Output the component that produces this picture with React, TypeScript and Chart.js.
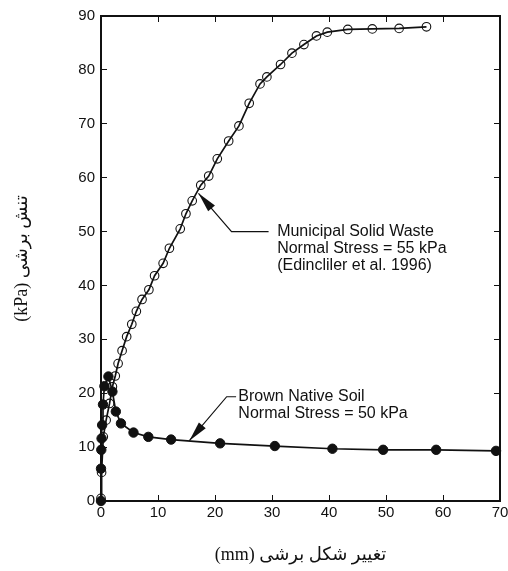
import React, { useEffect, useRef } from 'react';
import { Chart, registerables } from 'chart.js';

Chart.register(...registerables);

// Municipal Solid Waste (open circles)
const mswDisplacement = [0, 0.1, 0.4, 0.9, 1.5, 2.0, 2.5, 3.0, 3.7, 4.5, 5.4, 6.2, 7.2, 8.4, 9.4, 10.9, 12.0, 13.9, 14.9, 16.0, 17.5, 18.9, 20.4, 22.4, 24.2, 26.0, 27.9, 29.1, 31.5, 33.5, 35.6, 37.8, 39.7, 43.3, 47.6, 52.3, 57.1];
const mswStress = [0.5, 5.3, 11.9, 15.0, 18.1, 21.2, 23.2, 25.5, 27.9, 30.5, 32.8, 35.2, 37.4, 39.2, 41.8, 44.1, 46.9, 50.5, 53.3, 55.7, 58.6, 60.3, 63.5, 66.8, 69.6, 73.8, 77.4, 78.7, 81.0, 83.1, 84.7, 86.3, 87.0, 87.5, 87.6, 87.7, 88.0];

// Brown Native Soil (filled circles)
const soilDisplacement = [0, 0, 0.05, 0.1, 0.2, 0.35, 0.6, 1.3, 2.0, 2.6, 3.5, 5.7, 8.3, 12.3, 20.9, 30.5, 40.6, 49.5, 58.8, 69.3];
const soilStress = [0, 6.0, 9.5, 11.6, 14.1, 17.9, 21.3, 23.1, 20.3, 16.6, 14.4, 12.7, 11.9, 11.4, 10.7, 10.2, 9.7, 9.5, 9.5, 9.3];

const xMin = 0;
const xMax = 70;
const yMin = 0;
const yMax = 90;
const tickStep = 10;

const xTitle = 'تغییر شکل برشی (mm)';
const yTitle = 'تنش برشی (kPa)';

const mswLabel = ['Municipal Solid Waste', 'Normal Stress = 55 kPa', '(Edincliler et al. 1996)'];
const soilLabel = ['Brown Native Soil', 'Normal Stress = 50 kPa'];

// annotation anchors, in data units: arrow tip, bend, end; text start
const mswArrow = [[17.1, 57.1], [22.9, 50.0], [29.4, 50.0]];
const mswTextAt = [30.9, 50.0];
const soilArrow = [[15.5, 11.2], [22.05, 19.35], [23.7, 19.35]];
const soilTextAt = [24.1, 19.35];

const INK = '#111111';
const SANS = '"Liberation Sans", Arial, Helvetica, sans-serif';
const SERIF = '"Liberation Serif", "DejaVu Sans", serif';

const toPoints = (xs: number[], ys: number[]) => xs.map((v, i) => ({ x: v, y: ys[i] }));

const arrowPlugin = {
  id: 'arrowNotes',
  afterDatasetsDraw(chart: any) {
    const { ctx } = chart;
    const xs = chart.scales.x;
    const ys = chart.scales.y;
    const draw = (pts: number[][], textAt: number[], lines: string[]) => {
      const p = pts.map(([a, b]) => [xs.getPixelForValue(a), ys.getPixelForValue(b)]);
      ctx.save();
      ctx.strokeStyle = INK;
      ctx.fillStyle = INK;
      ctx.lineWidth = 1.2;
      ctx.beginPath();
      ctx.moveTo(p[0][0], p[0][1]);
      for (let i = 1; i < p.length; i++) ctx.lineTo(p[i][0], p[i][1]);
      ctx.stroke();
      const dx = p[0][0] - p[1][0];
      const dy = p[0][1] - p[1][1];
      const len = Math.hypot(dx, dy);
      const ux = dx / len;
      const uy = dy / len;
      const hl = 20;
      const hw = 4.5;
      const bx = p[0][0] - ux * hl;
      const by = p[0][1] - uy * hl;
      ctx.beginPath();
      ctx.moveTo(p[0][0], p[0][1]);
      ctx.lineTo(bx - uy * hw, by + ux * hw);
      ctx.lineTo(bx + uy * hw, by - ux * hw);
      ctx.closePath();
      ctx.fill();
      ctx.direction = 'ltr';
      ctx.font = '16px ' + SANS;
      ctx.textAlign = 'left';
      ctx.textBaseline = 'middle';
      const tx = xs.getPixelForValue(textAt[0]);
      const ty = ys.getPixelForValue(textAt[1]);
      lines.forEach((l, i) => ctx.fillText(l, tx, ty + i * 17));
      ctx.restore();
    };
    draw(mswArrow, mswTextAt, mswLabel);
    draw(soilArrow, soilTextAt, soilLabel);
  },
};

const axisGrid = {
  drawOnChartArea: false,
  drawTicks: true,
  tickLength: -6,
  color: INK,
  lineWidth: 1,
};
const axisBorder = { display: true, width: 2, color: INK };

const noOverhang = (s: any) => {
  s.paddingLeft = 0;
  s.paddingRight = 0;
  s.paddingTop = 0;
  s.paddingBottom = 0;
};

export default function App() {
  const ref = useRef<HTMLCanvasElement | null>(null);

  useEffect(() => {
    if (!ref.current) return;
    const chart = new Chart(ref.current, {
      type: 'scatter',
      data: {
        datasets: [
          {
            label: 'Brown Native Soil',
            data: toPoints(soilDisplacement, soilStress),
            showLine: true,
            borderColor: INK,
            borderWidth: 1.7,
            pointRadius: 4.7,
            pointBorderWidth: 1,
            pointBorderColor: INK,
            pointBackgroundColor: INK,
            tension: 0,
            clip: false,
          },
          {
            label: 'Municipal Solid Waste',
            data: toPoints(mswDisplacement, mswStress),
            showLine: true,
            borderColor: INK,
            borderWidth: 1.7,
            pointRadius: 4.3,
            pointBorderWidth: 1.1,
            pointBorderColor: INK,
            pointBackgroundColor: 'rgba(0,0,0,0)',
            tension: 0,
            clip: false,
          },
        ],
      },
      options: {
        responsive: false,
        animation: false,
        devicePixelRatio: 1,
        layout: { padding: { left: 0, right: 8, top: 16, bottom: 0 } },
        plugins: {
          legend: { display: false },
          tooltip: { enabled: false },
        },
        scales: {
          x: {
            type: 'linear',
            position: 'bottom',
            min: xMin,
            max: xMax,
            ticks: { stepSize: tickStep, color: INK, padding: 8.5, font: { family: SANS, size: 15 } },
            grid: axisGrid,
            border: axisBorder,
            title: {
              display: true,
              text: xTitle,
              color: INK,
              font: { family: SERIF, size: 18 },
              padding: { top: 0, bottom: 5 },
            },
            afterFit: (s: any) => { s.height = 70; noOverhang(s); },
          },
          y: {
            type: 'linear',
            position: 'left',
            min: yMin,
            max: yMax,
            ticks: { stepSize: tickStep, color: INK, padding: 12, font: { family: SANS, size: 15 } },
            grid: axisGrid,
            border: axisBorder,
            title: {
              display: true,
              text: yTitle,
              color: INK,
              font: { family: SERIF, size: 18 },
              padding: { top: 11, bottom: 0 },
            },
            afterFit: (s: any) => { s.width = 101; noOverhang(s); },
          },
          xTop: {
            type: 'linear',
            position: 'top',
            min: xMin,
            max: xMax,
            ticks: { stepSize: tickStep, display: false },
            grid: axisGrid,
            border: axisBorder,
            afterFit: (s: any) => { s.height = 0; noOverhang(s); },
          },
          yRight: {
            type: 'linear',
            position: 'right',
            min: yMin,
            max: yMax,
            ticks: { stepSize: tickStep, display: false },
            grid: axisGrid,
            border: axisBorder,
            afterFit: (s: any) => { s.width = 0; noOverhang(s); },
          },
        },
      } as any,
      plugins: [arrowPlugin],
    });
    return () => chart.destroy();
  }, []);

  return (
    <div style={{ position: 'absolute', left: 0, top: 0, width: 508, height: 571, background: '#fff' }}>
      <canvas ref={ref} width={508} height={571} dir="rtl" style={{ display: 'block', direction: 'rtl' }} />
    </div>
  );
}
